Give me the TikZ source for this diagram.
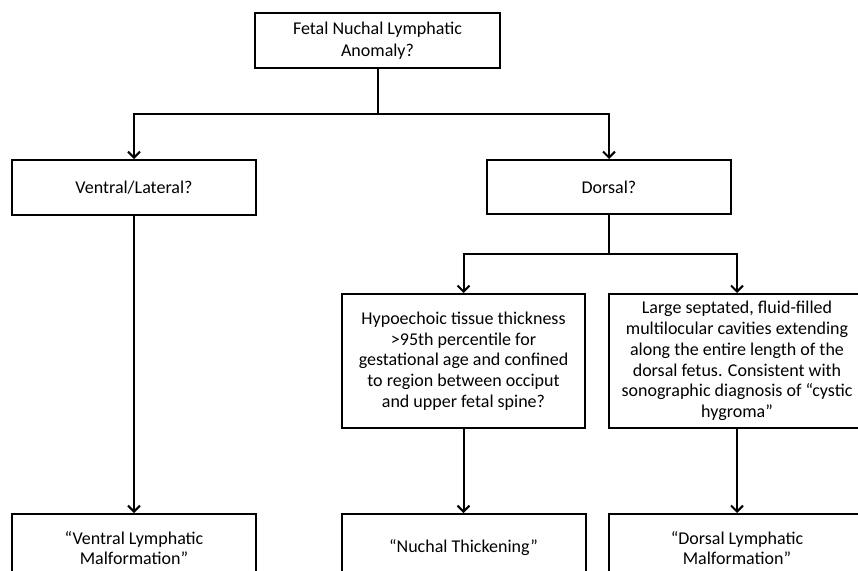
\documentclass[tikz,border=0pt]{standalone}
\usepackage{fontspec}
\setmainfont{Carlito}
\usetikzlibrary{arrows.meta}
\begin{document}
\begin{tikzpicture}[x=1pt,y=-1pt,
  box/.style={draw=black,line width=2pt,fill=white,align=center,inner sep=0pt,
    font=\fontsize{18}{22}\selectfont},
  dense/.style={font=\fontsize{18}{20.8}\selectfont},
  conn/.style={line width=2pt},
  arr/.style={line width=2pt,-{Straight Barb[length=6pt,width=12pt,line width=2pt]}}]
\useasboundingbox (0,0) rectangle (858,570);
\clip (0,0) rectangle (858,570);
\node[box,minimum width=245pt,minimum height=55pt] (top) at (377.5,40.5) {Fetal Nuchal Lymphatic\\Anomaly?};
\node[box,minimum width=244pt,minimum height=55pt] (ventral) at (134,187.5) {Ventral/Lateral?};
\node[box,minimum width=244pt,minimum height=54pt] (dorsal) at (609,187) {Dorsal?};
\node[box,dense,minimum width=243pt,minimum height=134pt] (hypo) at (463.5,361) {Hypoechoic tissue thickness\\>95th percentile for\\gestational age and confined\\to region between occiput\\and upper fetal spine?};
\node[box,dense,minimum width=256pt,minimum height=134pt] (large) at (737,361) {Large septated, fluid-filled\\multilocular cavities extending\\along the entire length of the\\dorsal fetus. Consistent with\\sonographic diagnosis of “cystic\\hygroma”};
\node[box,dense,minimum width=244pt,minimum height=68pt] (vlm) at (134,548) {“Ventral Lymphatic\\Malformation”};
\node[box,dense,minimum width=244pt,minimum height=68pt] (nt) at (463.5,548) {“Nuchal Thickening”};
\node[box,dense,minimum width=256pt,minimum height=68pt] (dlm) at (737,548) {“Dorsal Lymphatic\\Malformation”};
\coordinate (j1) at (377.5,114);
\coordinate (j2) at (609,253.5);
\draw[conn] (top.south) -- (j1);
\draw[arr] (j1) -| (ventral.north);
\draw[arr] (j1) -| (dorsal.north);
\draw[conn] (dorsal.south) -- (j2);
\draw[arr] (j2) -| (hypo.north);
\draw[arr] (j2) -| (large.north);
\draw[arr] (ventral.south) -- (vlm.north);
\draw[arr] (hypo.south) -- (nt.north);
\draw[arr] (large.south) -- (dlm.north);
\end{tikzpicture}
\end{document}
